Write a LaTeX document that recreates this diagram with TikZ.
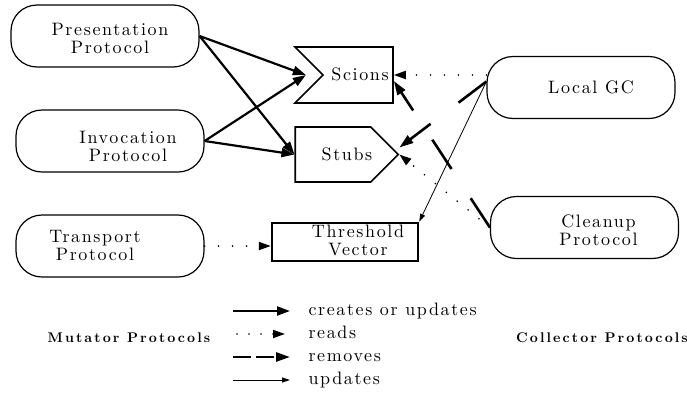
\documentclass[tikz,border=0pt]{standalone}
\usepackage{fontspec}
\newfontfamily\lmspaced{lmroman10-regular.otf}[LetterSpace=9]
\newfontfamily\lmfoot{lmroman10-bold.otf}[LetterSpace=15]
\usetikzlibrary{arrows.meta}
\usetikzlibrary{shapes.symbols}
\usetikzlibrary{positioning}

\begin{document}
\begin{tikzpicture}[x=1pt,y=-1pt,
	txt/.style={align=center,font=\lmspaced\fontsize{18}{18}\selectfont},
	proto/.style={draw,rectangle,rounded corners=26pt,minimum width=188pt,minimum height=62pt,line width=1.2pt},
	box/.style={draw,rectangle,minimum width=146pt,minimum height=38pt,line width=2.4pt},
	sig/.style={draw,signal,line width=1.6pt,minimum height=56pt},
	mk/.style={-{Triangle[length=13pt,width=9pt]},line width=2.2pt},
	rd/.style={-{Triangle[length=12pt,width=8pt]},line width=1.8pt,line cap=round,dash pattern=on 0pt off 14pt},
	rm/.style={-{Triangle[length=14pt,width=9pt]},line width=2.6pt,dash pattern=on 35pt off 35pt},
	up/.style={-{Triangle[length=8pt,width=5pt]},line width=0.8pt},
	key/.style={txt,anchor=west,text height=12pt,text depth=4pt},
	foot/.style={font=\lmfoot\fontsize{14}{16}\selectfont}]
	\useasboundingbox (0,0) rectangle (687,394);
	\node[proto,label={[txt,xshift=5pt,yshift=-2pt]center:Presentation\\Protocol}] (pres) at (105,36) {};
	\node[proto,label={[txt,xshift=18pt,yshift=-5pt]center:Invocation\\Protocol}] (inv) at (110,141) {};
	\node[proto,label={[txt,xshift=-15pt,yshift=1pt]center:Transport\\Protocol}] (trans) at (110,246) {};
	\node[proto,label={[txt,xshift=10pt]center:Local GC}] (gc) at (581,87.5) {};
	\node[proto,label={[txt,xshift=14pt,yshift=-3pt]center:Cleanup\\Protocol}] (clean) at (584.5,227.5) {};
	\node[box,label={[txt,xshift=13pt,yshift=2pt]center:Threshold\\Vector}] (tv) at (345,242) {};
	\node[sig,signal to=nowhere,signal from=west,minimum width=98pt,label={[txt,xshift=2pt,yshift=1pt]center:Scions}] (sc) at (358,75) {};
	\node[sig,minimum width=103pt,minimum height=55pt,label={[txt,xshift=14pt]center:Stubs}] (st) at (333,154.5) {};
	\coordinate (gcw) at ([yshift=6pt]gc.west);
	\draw[mk] (pres.east) -- ([xshift=-16pt]sc.west);
	\draw[mk] (pres.east) -- (st.west);
	\draw[mk] (inv.east) -- ([xshift=-16pt]sc.west);
	\draw[mk] (inv.east) -- (st.west);
	\draw[rd] (gc.west |- sc.east) -- (sc.east);
	\draw[rd] (clean.west) -- (st.east);
	\draw[rd] (trans.east) -- (trans.east -| tv.west);
	\draw[rm] (gcw) -- ([yshift=7pt]st.east);
	\draw[rm] (clean.west) -- ([yshift=-6pt]sc.east);
	\draw[up] (gcw) -- (tv.north east);
	\node[key] (k1) at (305,311) {creates or updates};
	\node[key] (k2) at (305,334) {reads};
	\node[key] (k3) at (305,357) {removes};
	\node[key] (k4) at (305,380) {updates};
	\draw[mk] ([xshift=-72pt]k1.west) -- ([xshift=-15pt]k1.west);
	\draw[rd,dash pattern=on 0pt off 12pt] ([xshift=-68pt]k2.west) -- ([xshift=-20pt]k2.west);
	\draw[rm,dash pattern=on 18pt off 5pt] ([xshift=-72pt]k3.west) -- ([xshift=-15pt]k3.west);
	\draw[up] ([xshift=-72pt]k4.west) -- ([xshift=-15pt]k4.west);
	\node[foot] (mut) at (129,338) {Mutator Protocols};
	\node[foot] (col) at (602,338) {Collector Protocols};
\end{tikzpicture}
\end{document}
